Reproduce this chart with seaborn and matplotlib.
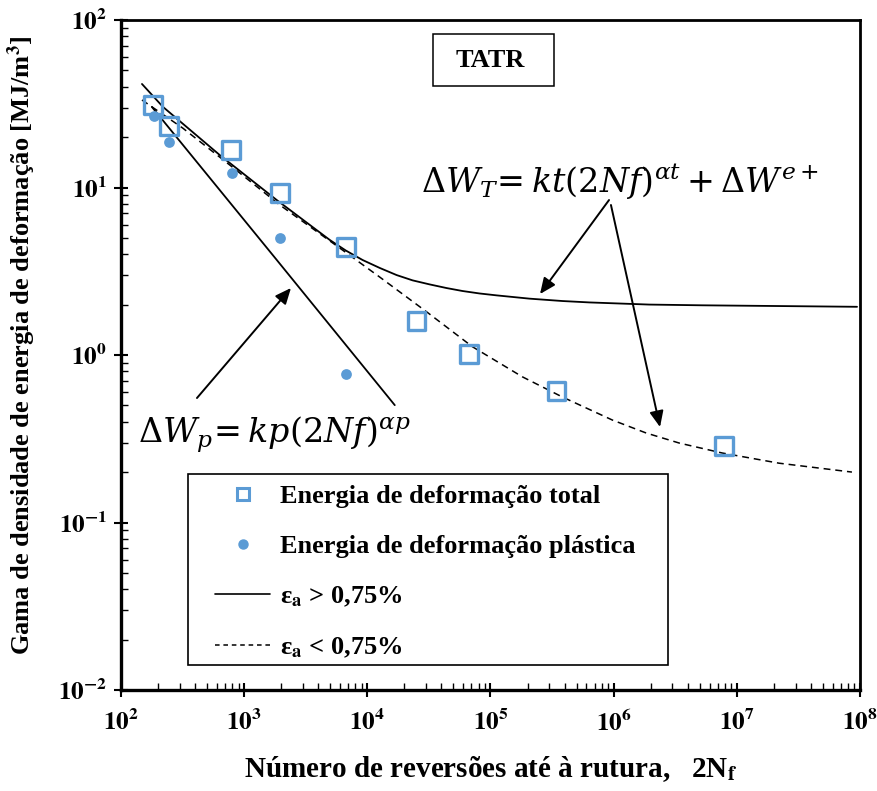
import matplotlib
matplotlib.use("Agg")
import matplotlib.pyplot as plt
import seaborn as sns
import pandas as pd
from matplotlib.lines import Line2D
from matplotlib.patches import Rectangle
from matplotlib.ticker import FixedLocator, FixedFormatter, LogLocator, NullFormatter

# ---------------- data ----------------
total_reversals = [182, 245, 780, 1945, 6670, 25100, 66400, 343000, 7.9e6]
total_energy = [31.1, 23.3, 16.7, 9.27, 4.42, 1.60, 1.01, 0.61, 0.286]

plastic_reversals = [185, 245, 795, 1945, 6670]
plastic_energy = [26.7, 18.7, 12.2, 5.0, 0.77]

# fitted curves
fit_high_x = [148, 219, 635, 1841, 4960, 6670, 9160, 12600, 17300, 23300,
              32000, 44000, 59300, 81500, 112000, 207000, 384000, 635000,
              1.95e6, 5.24e6, 9.46e7]
fit_high_y = [41.5, 30.3, 15.6, 8.41, 4.86, 4.21, 3.69, 3.31, 3.00, 2.79,
              2.64, 2.51, 2.41, 2.33, 2.27, 2.17, 2.10, 2.06,
              2.00, 1.98, 1.94]
fit_low_x = [148, 318, 766, 1945, 5970, 12600, 30300, 71400, 182000, 384000,
             976000, 1.84e6, 3.41e6, 7.6e6, 2.2e7, 8.6e7]
fit_low_y = [33.3, 22.6, 13.6, 7.87, 4.35, 2.92, 1.81, 1.12, 0.74, 0.561,
             0.409, 0.342, 0.298, 0.260, 0.226, 0.200]
fit_plastic_x = [178, 1841, 16700]
fit_plastic_y = [30.3, 3.69, 0.502]

x_ticks = [1e2, 1e3, 1e4, 1e5, 1e6, 1e7, 1e8]
x_tick_labels = [r"$\mathbf{10^{2}}$", r"$\mathbf{10^{3}}$", r"$\mathbf{10^{4}}$",
                 r"$\mathbf{10^{5}}$", r"$\mathbf{10^{6}}$", r"$\mathbf{10^{7}}$",
                 r"$\mathbf{10^{8}}$"]
y_ticks = [1e-2, 1e-1, 1e0, 1e1, 1e2]
y_tick_labels = [r"$\mathbf{10^{-2}}$", r"$\mathbf{10^{-1}}$", r"$\mathbf{10^{0}}$",
                 r"$\mathbf{10^{1}}$", r"$\mathbf{10^{2}}$"]

legend_labels = ["Energia de deformação total",
                 "Energia de deformação plástica",
                 r"ε$_{\mathbf{a}}$ > 0,75%",
                 r"ε$_{\mathbf{a}}$ < 0,75%"]

BLUE = "#5B9BD5"

# ---------------- style ----------------
sns.set_theme(style="white")
plt.rcParams["font.family"] = ["Liberation Serif", "DejaVu Serif"]
plt.rcParams["mathtext.fontset"] = "stix"

fig = plt.figure(figsize=(8.78, 7.91), dpi=100)
ax = fig.add_axes([121 / 878, 101 / 791, 739 / 878, 670 / 791])
ax.set_xscale("log")
ax.set_yscale("log")

dash = (0, (4.5, 3.2))
sns.lineplot(x=fit_high_x, y=fit_high_y, ax=ax, color="black", lw=1.3,
             sort=False, estimator=None, zorder=2)
sns.lineplot(x=fit_low_x, y=fit_low_y, ax=ax, color="black", lw=1.1,
             sort=False, estimator=None, zorder=2, linestyle="--")
ax.lines[-1].set_linestyle(dash)
sns.lineplot(x=fit_plastic_x, y=fit_plastic_y, ax=ax, color="black", lw=1.3,
             sort=False, estimator=None, zorder=2)

sns.scatterplot(x=total_reversals, y=total_energy, ax=ax, marker="s", s=165,
                facecolor="none", edgecolor=BLUE, linewidth=2.4, zorder=3)
sns.scatterplot(x=plastic_reversals, y=plastic_energy, ax=ax, marker="o", s=60,
                color=BLUE, edgecolor=BLUE, linewidth=0, zorder=3)

ax.set_xlim(1e2, 1e8)
ax.set_ylim(1e-2, 1e2)

# ticks
ax.xaxis.set_major_locator(FixedLocator(x_ticks))
ax.xaxis.set_major_formatter(FixedFormatter(x_tick_labels))
ax.yaxis.set_major_locator(FixedLocator(y_ticks))
ax.yaxis.set_major_formatter(FixedFormatter(y_tick_labels))
ax.xaxis.set_minor_locator(LogLocator(base=10, subs=range(2, 10), numticks=50))
ax.yaxis.set_minor_locator(LogLocator(base=10, subs=range(2, 10), numticks=50))
ax.xaxis.set_minor_formatter(NullFormatter())
ax.yaxis.set_minor_formatter(NullFormatter())
ax.tick_params(which="major", direction="inout", length=10, width=1.5,
               labelsize=18, color="black", bottom=True, left=True,
               top=False, right=False)
ax.tick_params(which="minor", direction="in", length=5, width=1.0,
               color="black", bottom=True, left=True, top=False, right=False)
ax.tick_params(axis="x", pad=9)
ax.tick_params(axis="y", pad=5)
for lab in ax.get_xticklabels() + ax.get_yticklabels():
    lab.set_color("black")

for side in ["left", "bottom"]:
    ax.spines[side].set_linewidth(2.4)
for side in ["top", "right"]:
    ax.spines[side].set_linewidth(2.0)
for sp in ax.spines.values():
    sp.set_color("black")
    sp.set_visible(True)

ax.set_xlabel(r"Número de reversões até à rutura,   2N$_{\mathbf{f}}$",
              fontsize=21, fontweight="bold", color="black", labelpad=13)
ax.set_ylabel(r"Gama de densidade de energia de deformação [MJ/m$^{\mathbf{3}}$]",
              fontsize=19, fontweight="bold", color="black")
ax.yaxis.set_label_coords(-0.112, 0.515)

# TATR box
ax.add_patch(Rectangle((0.4222, 0.9015), 0.1637, 0.0776, transform=ax.transAxes,
                       fill=False, edgecolor="black", lw=1.1, zorder=4))
ax.text(0.500, 0.940, "TATR", transform=ax.transAxes, ha="center", va="center",
        fontsize=19, fontweight="bold", color="black")

# equations
ax.text(0.675, 0.742, r"$\Delta W_T\!= kt(2Nf)^{\alpha t} + \Delta W^{e+}$",
        transform=ax.transAxes, ha="center", va="baseline", fontsize=24,
        color="black", math_fontfamily="dejavuserif")
ax.text(0.207, 0.369, r"$\Delta W_p\!= kp(2Nf)^{\alpha p}$",
        transform=ax.transAxes, ha="center", va="baseline", fontsize=24,
        color="black", math_fontfamily="dejavuserif")

# arrows
arrow_kw = dict(arrowstyle="-|>,head_length=0.8,head_width=0.35", color="black",
                lw=1.4, shrinkA=0, shrinkB=0)
ax.annotate("", xy=(0.230, 0.600), xytext=(0.1028, 0.4358),
            xycoords="axes fraction", textcoords="axes fraction",
            arrowprops=arrow_kw)
ax.annotate("", xy=(0.567, 0.591), xytext=(0.6604, 0.7313),
            xycoords="axes fraction", textcoords="axes fraction",
            arrowprops=arrow_kw)
ax.annotate("", xy=(0.7294, 0.3925), xytext=(0.663, 0.7239),
            xycoords="axes fraction", textcoords="axes fraction",
            arrowprops=arrow_kw)

# legend with separate frame
ax.add_patch(Rectangle((0.0907, 0.0373), 0.6495, 0.2851, transform=ax.transAxes,
                       facecolor="white", edgecolor="black", lw=1.2, zorder=4))
handles = [
    Line2D([], [], marker="s", ls="none", mfc="none", mec=BLUE, mew=2.2, ms=9),
    Line2D([], [], marker="o", ls="none", mfc=BLUE, mec=BLUE, ms=6.5),
    Line2D([], [], color="black", lw=1.2),
    Line2D([], [], color="black", lw=1.1, ls=(0, (3, 2.5))),
]
leg = ax.legend(handles, legend_labels, loc="upper left",
                bbox_to_anchor=((215 - 121) / 739, (690 - 485) / 670),
                frameon=False, borderpad=0, borderaxespad=0,
                handlelength=2.1, handletextpad=0.35, labelspacing=1.0,
                prop=dict(family="Liberation Serif", weight="bold", size=19))
leg.set_zorder(5)
for t in leg.get_texts():
    t.set_color("black")

fig.savefig("out.png", dpi=100)
